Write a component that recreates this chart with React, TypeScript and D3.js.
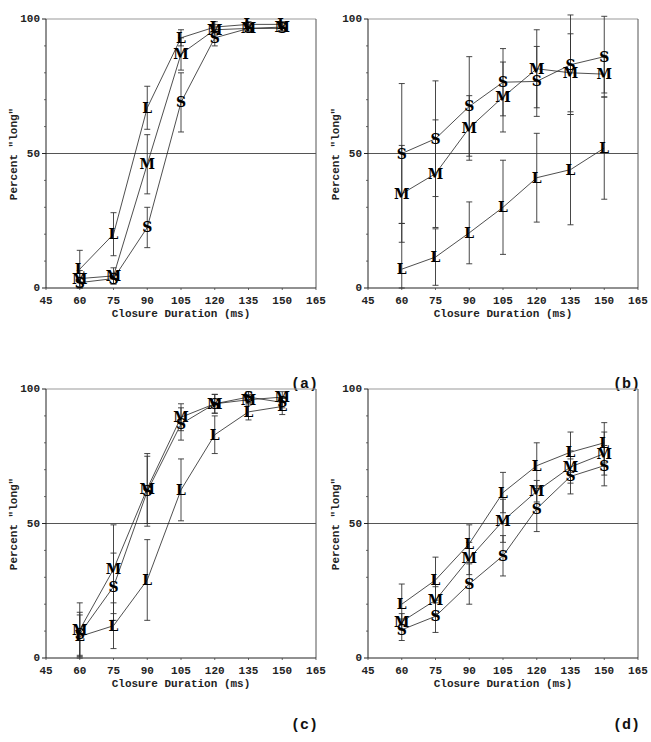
import React from "react"
import * as d3 from "d3"

// closure durations (ms) shared by every panel
const durations = [60, 75, 90, 105, 120, 135, 150]
const xTicks = [45, 60, 75, 90, 105, 120, 135, 150, 165]
const yMajor = [0, 50, 100]
const yMinor = [10, 20, 30, 40, 60, 70, 80, 90]

// panel (a)
const aL = [7, 20, 67, 93, 97, 98, 98]
const aLerr = [7, 8, 8, 3, 2, 1, 1]
const aM = [3.5, 4.5, 46, 87, 96, 96.5, 97]
const aMerr = [3, 3, 11, 6, 2, 1, 1.5]
const aS = [2, 3.5, 22.5, 69, 93, 96.5, 96.5]
const aSerr = [2, 2, 7.5, 11, 3, 1, 1]

// panel (b)
const bL = [7, 11.5, 20.5, 30, 41, 44, 52]
const bLerr = [17, 10.5, 11.5, 17.5, 16.5, 20.5, 19]
const bM = [35, 42.5, 59.5, 71, 81.5, 80, 79.5]
const bMerr = [18, 20, 12, 13, 14.5, 14.5, 7]
const bS = [50, 55.5, 67.5, 76.5, 76.8, 83, 86]
const bSerr = [26, 21.5, 18.5, 12.5, 13, 18.5, 15]

// panel (c)
const cL = [8, 12, 29, 62.5, 83, 91.5, 93.5]
const cLerr = [8, 8.5, 15, 11.5, 7, 3, 3]
const cM = [10.5, 33, 63, 89.5, 94.5, 96, 97]
const cMerr = [10, 16.5, 13, 5, 3.5, 2, 2]
const cS = [9, 26.5, 62, 87, 94.5, 97, 95]
const cSerr = [8, 12.5, 13, 6, 3.5, 2, 2]

// panel (d)
const dL = [20, 29, 42.5, 61.5, 71.5, 76.5, 80]
const dLerr = [7.5, 8.5, 7, 7.5, 8.5, 7.5, 7.5]
const dM = [13.5, 21.5, 37, 51, 62, 71, 76]
const dMerr = [3, 5, 6, 8, 4, 6, 8]
const dS = [10.5, 15.5, 27.5, 38, 55.5, 67.5, 71.5]
const dSerr = [4, 6, 7.5, 7.5, 8.5, 6.5, 7.5]

interface Series {
  label: string
  values: number[]
  err: number[]
}

interface PanelProps {
  left: number
  top: number
  tag: string
  series: Series[]
}

const W = 270
const H = 269
const FONT = "'Liberation Mono', 'DejaVu Sans Mono', monospace"
const MARK_FONT = "'DejaVu Serif', 'Liberation Serif', serif"

const Panel: React.FC<PanelProps> = ({ left, top, tag, series }) => {
  const x = d3.scaleLinear().domain([45, 165]).range([0, W])
  const y = d3.scaleLinear().domain([0, 100]).range([H, 0])
  const line = d3
    .line<number>()
    .x((_, i) => x(durations[i]))
    .y((d) => y(d))

  return (
    <g transform={`translate(${left},${top})`}>
      {/* frame */}
      <line x1={0} x2={W} y1={0} y2={0} stroke="#999" strokeWidth={1.2} />
      <line x1={W} x2={W} y1={0} y2={H} stroke="#555" strokeWidth={1} />
      <line x1={0} x2={W} y1={y(50)} y2={y(50)} stroke="#555" strokeWidth={1} />

      {/* y axis */}
      <line x1={0} x2={0} y1={0} y2={H} stroke="#222" strokeWidth={1} />
      {yMinor.map((t) => (
        <line key={"m" + t} x1={-2} x2={0} y1={y(t)} y2={y(t)} stroke="#444" strokeWidth={0.8} />
      ))}
      {yMajor.map((t) => (
        <g key={"y" + t}>
          <line x1={-4} x2={0} y1={y(t)} y2={y(t)} stroke="#222" />
          <text
            x={-6}
            y={y(t)}
            textAnchor="end"
            dominantBaseline="central"
            fontFamily={FONT}
            fontWeight="bold"
            fontSize={11}
            fill="#222"
          >
            {t}
          </text>
        </g>
      ))}

      {/* x axis */}
      <line x1={0} x2={W} y1={H} y2={H} stroke="#222" strokeWidth={1} />
      {xTicks.map((t) => (
        <g key={"x" + t}>
          <line x1={x(t)} x2={x(t)} y1={H} y2={H + 2} stroke="#444" strokeWidth={0.8} />
          <text
            x={x(t)}
            y={H + 16}
            textAnchor="middle"
            fontFamily={FONT}
            fontWeight="bold"
            fontSize={11}
            fill="#222"
          >
            {t}
          </text>
        </g>
      ))}
      <text
        x={W / 2}
        y={H + 29}
        textAnchor="middle"
        fontFamily={FONT}
        fontWeight="bold"
        fontSize={11}
        fill="#222"
      >
        Closure Duration (ms)
      </text>
      <text
        transform={`translate(${-32},${135}) rotate(-90)`}
        textAnchor="middle"
        dominantBaseline="central"
        fontFamily={FONT}
        fontWeight="bold"
        fontSize={11}
        fill="#222"
      >
        Percent "long"
      </text>

      {/* connecting lines */}
      {series.map((s) => (
        <path key={"l" + s.label} d={line(s.values) || ""} fill="none" stroke="#222" strokeWidth={0.8} />
      ))}

      {/* error bars */}
      {series.map((s) =>
        s.values.map((v, i) => {
          const cx = x(durations[i])
          const hi = y(Math.min(v + s.err[i], 101.5))
          const lo = y(Math.max(v - s.err[i], 0))
          return (
            <g key={"e" + s.label + i} stroke="#333" strokeWidth={0.9}>
              <line x1={cx} x2={cx} y1={hi} y2={lo} />
              <line x1={cx - 3} x2={cx + 3} y1={hi} y2={hi} />
              <line x1={cx - 3} x2={cx + 3} y1={lo} y2={lo} />
            </g>
          )
        })
      )}

      {/* letter markers */}
      {series.map((s) =>
        s.values.map((v, i) => (
          <text
            key={"t" + s.label + i}
            x={x(durations[i])}
            y={y(v)}
            textAnchor="middle"
            dominantBaseline="central"
            fontFamily={MARK_FONT}
            fontWeight="bold"
            fontSize={14}
            fill="#000"
          >
            {s.label}
          </text>
        ))
      )}

      <text
        x={W + 2}
        y={tag === "(a)" || tag === "(b)" ? 369 : 340}
        textAnchor="end"
        fontFamily={FONT}
        fontWeight="bold"
        fontSize={15}
        fill="#111"
      >
        {tag}
      </text>
    </g>
  )
}

const App: React.FC = () => {
  const panels: PanelProps[] = [
    {
      left: 46,
      top: 19,
      tag: "(a)",
      series: [
        { label: "L", values: aL, err: aLerr },
        { label: "M", values: aM, err: aMerr },
        { label: "S", values: aS, err: aSerr },
      ],
    },
    {
      left: 368,
      top: 19,
      tag: "(b)",
      series: [
        { label: "L", values: bL, err: bLerr },
        { label: "M", values: bM, err: bMerr },
        { label: "S", values: bS, err: bSerr },
      ],
    },
    {
      left: 46,
      top: 389,
      tag: "(c)",
      series: [
        { label: "L", values: cL, err: cLerr },
        { label: "M", values: cM, err: cMerr },
        { label: "S", values: cS, err: cSerr },
      ],
    },
    {
      left: 368,
      top: 389,
      tag: "(d)",
      series: [
        { label: "L", values: dL, err: dLerr },
        { label: "M", values: dM, err: dMerr },
        { label: "S", values: dS, err: dSerr },
      ],
    },
  ]

  return (
    <svg
      width={651}
      height={742}
      style={{ position: "absolute", left: 0, top: 0, background: "#fff" }}
    >
      <rect width={651} height={742} fill="#fff" />
      {panels.map((p) => (
        <Panel key={p.tag} {...p} />
      ))}
    </svg>
  )
}

export default App
